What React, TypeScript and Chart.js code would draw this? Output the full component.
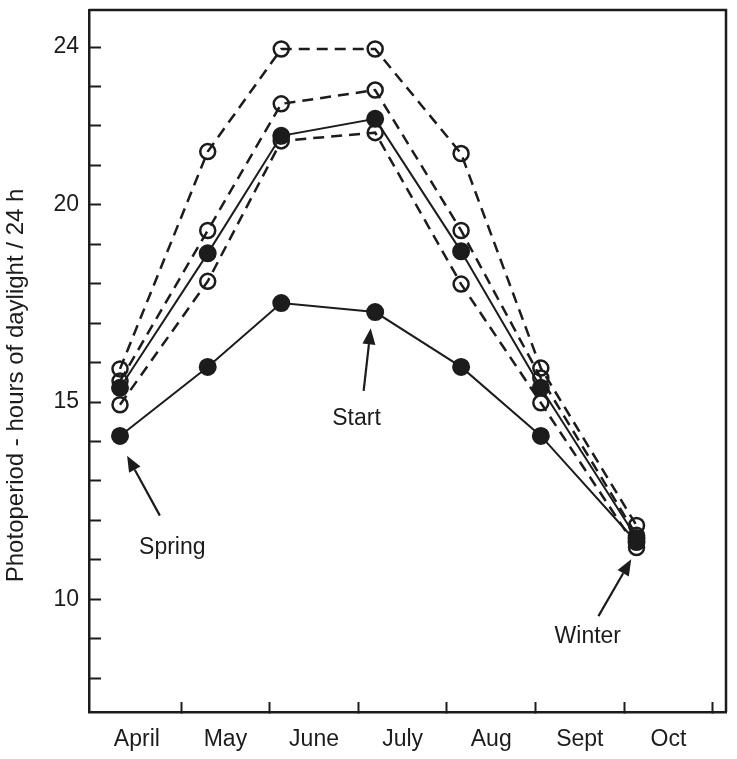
import React, { useEffect, useRef } from 'react';
import { Chart, registerables } from 'chart.js';

Chart.register(...registerables);

// ---- data ----
const MONTHS = ['April', 'May', 'June', 'July', 'Aug', 'Sept', 'Oct'];
const MONTH_LABEL_POS = [0.5, 1.5, 2.5, 3.5, 4.5, 5.5, 6.5];
const X_TICKS = [0, 0.5, 1, 1.5, 2, 2.5, 3, 3.5, 4, 4.5, 5, 5.5, 6, 6.5, 7];
const X_POS = [0.31, 1.3, 2.13, 3.19, 4.16, 5.06, 6.14];

const FILLED_LOW = [14.14, 15.89, 17.51, 17.28, 15.89, 14.14, 11.45];
const FILLED_HIGH = [15.36, 18.77, 21.75, 22.18, 18.82, 15.36, 11.55];
const OPEN_TOP = [15.84, 21.35, 23.95, 23.95, 21.3, 15.86, 11.87];
const OPEN_MID = [15.53, 19.35, 22.56, 22.91, 19.35, 15.61, 11.62];
const OPEN_LOW = [14.93, 18.06, 21.62, 21.83, 17.99, 14.98, 11.31];

const Y_TICKS = [8, 9, 10, 11, 12, 13, 14, 15, 16, 17, 18, 19, 20, 21, 22, 23, 24];
const Y_LABELS = [10, 15, 20, 24];
const Y_TITLE = 'Photoperiod - hours of daylight / 24 h';
const Y_TITLE_CENTER = 15.42; // value on y axis where the title is centred

const NOTES = ['Spring', 'Start', 'Winter'];
const NOTE_X = [0.9, 2.98, 5.59];
const NOTE_Y = [11.31, 14.57, 9.06];
const ARROW_FROM_X = [0.76, 3.06, 5.71];
const ARROW_FROM_Y = [12.12, 15.28, 9.57];
const ARROW_TO_X = [0.39, 3.14, 6.08];
const ARROW_TO_Y = [13.64, 16.87, 11.01];

const INK = '#1c1c1c';
const FONT = '"Liberation Sans", Arial, Helvetica, sans-serif';
const FS = 23;

const toPoints = (ys: number[]) => ys.map((v, i) => ({ x: X_POS[i], y: v }));

const framePlugin = {
  id: 'frame',
  afterDraw(chart: any) {
    const { ctx, chartArea } = chart;
    ctx.save();
    ctx.strokeStyle = INK;
    ctx.lineWidth = 2.5;
    ctx.beginPath();
    ctx.moveTo(chartArea.left, chartArea.top);
    ctx.lineTo(chartArea.right, chartArea.top);
    ctx.lineTo(chartArea.right, chartArea.bottom);
    ctx.stroke();
    // y-axis title
    const ys = chart.scales.y;
    ctx.translate(16, ys.getPixelForValue(Y_TITLE_CENTER));
    ctx.rotate(-Math.PI / 2);
    ctx.font = `24px ${FONT}`;
    ctx.fillStyle = INK;
    ctx.textAlign = 'center';
    ctx.textBaseline = 'middle';
    ctx.fillText(Y_TITLE, 0, 0);
    ctx.restore();
  },
};

const notesPlugin = {
  id: 'notes',
  afterDatasetsDraw(chart: any) {
    const { ctx } = chart;
    const xs = chart.scales.x;
    const ys = chart.scales.y;
    ctx.save();
    ctx.font = `${FS}px ${FONT}`;
    ctx.fillStyle = INK;
    ctx.strokeStyle = INK;
    ctx.textAlign = 'center';
    ctx.textBaseline = 'middle';
    NOTES.forEach((t, i) => {
      ctx.fillText(t, xs.getPixelForValue(NOTE_X[i]), ys.getPixelForValue(NOTE_Y[i]));
      const x0 = xs.getPixelForValue(ARROW_FROM_X[i]);
      const y0 = ys.getPixelForValue(ARROW_FROM_Y[i]);
      const x1 = xs.getPixelForValue(ARROW_TO_X[i]);
      const y1 = ys.getPixelForValue(ARROW_TO_Y[i]);
      const a = Math.atan2(y1 - y0, x1 - x0);
      const hl = 16;
      const hw = 6.5;
      const bx = x1 - hl * Math.cos(a);
      const by = y1 - hl * Math.sin(a);
      ctx.lineWidth = 2.2;
      ctx.beginPath();
      ctx.moveTo(x0, y0);
      ctx.lineTo(bx, by);
      ctx.stroke();
      ctx.beginPath();
      ctx.moveTo(x1, y1);
      ctx.lineTo(bx + hw * Math.sin(a), by - hw * Math.cos(a));
      ctx.lineTo(bx - hw * Math.sin(a), by + hw * Math.cos(a));
      ctx.closePath();
      ctx.fill();
    });
    ctx.restore();
  },
};

export default function App() {
  const ref = useRef<HTMLCanvasElement | null>(null);

  useEffect(() => {
    if (!ref.current) return;
    Chart.defaults.font.family = FONT;
    const filled = (ys: number[]) => ({
      data: toPoints(ys),
      borderColor: INK,
      borderWidth: 2,
      pointRadius: 8,
      pointBorderWidth: 2,
      pointBackgroundColor: INK,
      pointBorderColor: INK,
      tension: 0,
    });
    const open = (ys: number[]) => ({
      data: toPoints(ys),
      borderColor: INK,
      borderWidth: 2.5,
      borderDash: [11, 7],
      pointRadius: 7.5,
      pointBorderWidth: 2.5,
      pointBackgroundColor: 'rgba(255,255,255,0)',
      pointBorderColor: INK,
      tension: 0,
    });
    const chart = new Chart(ref.current, {
      type: 'line',
      data: {
        datasets: [
          filled(FILLED_LOW),
          filled(FILLED_HIGH),
          open(OPEN_TOP),
          open(OPEN_MID),
          open(OPEN_LOW),
        ],
      },
      options: {
        animation: false,
        responsive: false,
        layout: { padding: { left: 0, top: 8, right: 11, bottom: 0 } },
        plugins: { legend: { display: false }, tooltip: { enabled: false } },
        scales: {
          x: {
            type: 'linear',
            min: -0.04,
            max: 7.15,
            afterFit: (s: any) => {
              s.height = 47;
              s.paddingLeft = 0;
              s.paddingRight = 0;
            },
            afterBuildTicks: (s: any) => {
              s.ticks = X_TICKS.map((v) => ({ value: v }));
            },
            border: { display: true, width: 2.5, color: INK },
            grid: {
              drawOnChartArea: false,
              drawTicks: true,
              tickLength: -10,
              tickWidth: 2,
              tickColor: (c: any) =>
                c.tick && Number.isInteger(c.tick.value) && c.tick.value > 0 ? INK : 'rgba(0,0,0,0)',
            },
            ticks: {
              autoSkip: false,
              maxRotation: 0,
              minRotation: 0,
              padding: 24,
              color: INK,
              font: { size: FS },
              callback: (v: any) => {
                const i = MONTH_LABEL_POS.indexOf(Number(v));
                return i >= 0 ? MONTHS[i] : '';
              },
            },
          },
          y: {
            type: 'linear',
            min: 7.14,
            max: 24.94,
            afterFit: (s: any) => {
              s.width = 89;
              s.paddingTop = 0;
              s.paddingBottom = 0;
            },
            afterBuildTicks: (s: any) => {
              s.ticks = Y_TICKS.map((v) => ({ value: v }));
            },
            border: { display: true, width: 2.5, color: INK },
            grid: {
              drawOnChartArea: false,
              drawTicks: true,
              tickLength: -12,
              tickWidth: 2,
              tickColor: INK,
            },
            ticks: {
              autoSkip: false,
              padding: 22,
              color: INK,
              font: { size: FS },
              callback: (v: any) => (Y_LABELS.includes(Number(v)) ? String(v) : ''),
            },
          },
        },
      },
      plugins: [framePlugin, notesPlugin],
    } as any);
    return () => chart.destroy();
  }, []);

  return (
    <div style={{ position: 'fixed', left: 0, top: 0, width: 737, height: 759, background: '#fff' }}>
      <canvas ref={ref} width={737} height={759} style={{ display: 'block' }} />
    </div>
  );
}
